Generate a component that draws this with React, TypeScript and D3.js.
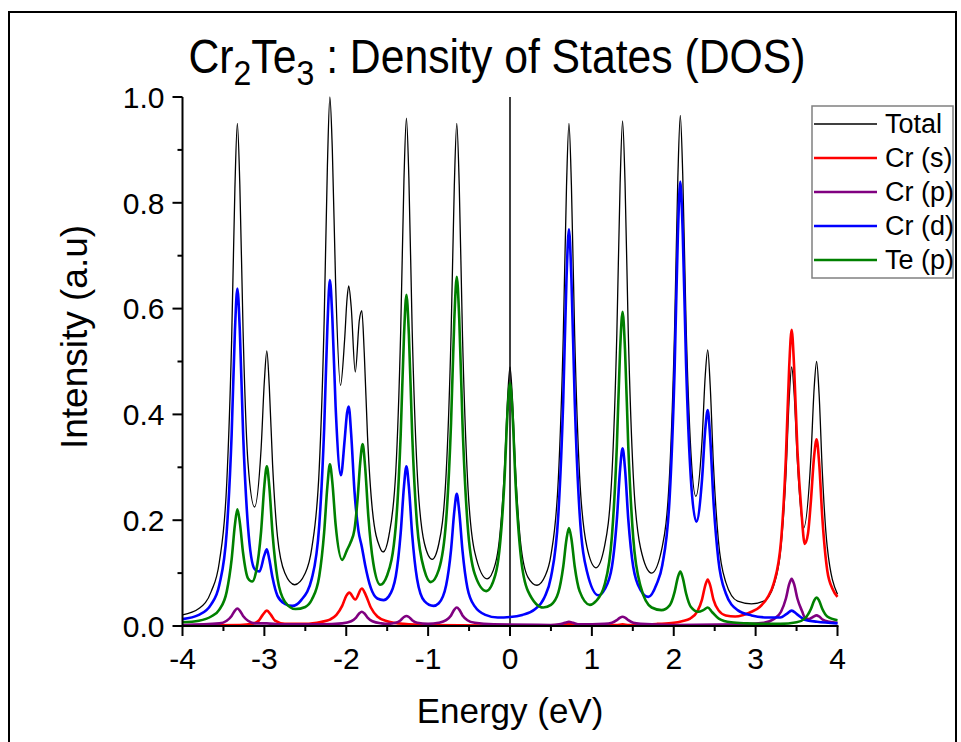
import React from 'react';
import * as d3 from 'd3';

// ---------- data (Energy eV, Intensity a.u.) ----------
const totalDOS: [number, number][] = [
  [-4.0,.021],[-3.8,.033],[-3.65,.065],[-3.55,.121],[-3.46,.269],[-3.40,.539],[-3.36,.827],[-3.33,.95],[-3.30,.835],[-3.26,.557],[-3.20,.308],[-3.12,.225],[-3.04,.335],[-3.00,.463],[-2.97,.52],[-2.94,.453],[-2.90,.306],[-2.84,.169],[-2.75,.10],[-2.63,.078],[-2.50,.10],[-2.42,.148],[-2.33,.298],[-2.27,.576],[-2.23,.871],[-2.20,1.0],[-2.17,.90],[-2.13,.649],[-2.07,.455],[-2.02,.541],[-1.99,.619],[-1.97,.643],[-1.94,.604],[-1.89,.48],[-1.84,.578],[-1.81,.596],[-1.78,.516],[-1.74,.358],[-1.68,.218],[-1.59,.149],[-1.55,.14],[-1.48,.17],[-1.395,.292],[-1.335,.558],[-1.295,.845],[-1.265,.96],[-1.235,.846],[-1.195,.561],[-1.135,.296],[-1.045,.156],[-0.95,.126],[-0.87,.155],[-0.78,.288],[-0.72,.55],[-0.68,.833],[-0.65,.95],[-0.62,.833],[-0.58,.547],[-0.52,.281],[-0.43,.139],[-0.28,.089],[-0.18,.117],[-0.13,.163],[-0.07,.29],[-0.03,.429],[0,.49],[0.03,.429],[0.07,.288],[0.13,.157],[0.22,.092],[0.33,.077],[0.43,.095],[0.50,.134],[0.59,.277],[0.65,.544],[0.69,.83],[0.72,.95],[0.75,.833],[0.79,.549],[0.85,.284],[0.94,.149],[1.05,.11],[1.155,.151],[1.245,.287],[1.305,.553],[1.345,.837],[1.375,.955],[1.405,.838],[1.445,.552],[1.505,.286],[1.595,.147],[1.73,.10],[1.86,.150],[1.95,.29],[2.01,.559],[2.05,.847],[2.08,.965],[2.11,.852],[2.15,.574],[2.21,.327],[2.27,.245],[2.345,.349],[2.385,.474],[2.415,.522],[2.445,.455],[2.485,.304],[2.545,.162],[2.635,.083],[2.78,.047],[2.95,.042],[3.1,.047],[3.22,.076],[3.31,.15],[3.37,.285],[3.41,.43],[3.44,.49],[3.47,.441],[3.51,.312],[3.585,.185],[3.675,.318],[3.715,.45],[3.745,.50],[3.775,.439],[3.815,.29],[3.875,.149],[4.0,.06]
];

const crS: [number, number][] = [
  [-4.0,.001],[-3.3,.002],[-3.15,.004],[-3.07,.01],[-3.02,.021],[-2.97,.029],[-2.92,.021],[-2.87,.01],[-2.75,.004],[-2.5,.004],[-2.3,.008],[-2.2,.012],[-2.12,.021],[-2.05,.038],[-2.0,.057],[-1.963,.063],[-1.89,.05],[-1.81,.071],[-1.76,.058],[-1.70,.035],[-1.62,.018],[-1.5,.009],[-1.3,.004],[-1.0,.002],[0,.001],[0.65,.002],[0.72,.004],[0.8,.002],[1.3,.002],[1.375,.003],[1.45,.002],[1.8,.004],[2.0,.006],[2.1,.009],[2.2,.014],[2.29,.028],[2.345,.05],[2.385,.077],[2.415,.088],[2.445,.077],[2.485,.05],[2.545,.03],[2.635,.02],[2.75,.018],[2.85,.021],[2.95,.027],[3.05,.036],[3.15,.055],[3.22,.08],[3.31,.16],[3.37,.32],[3.41,.49],[3.44,.56],[3.47,.49],[3.51,.334],[3.56,.215],[3.6,.155],[3.64,.175],[3.675,.236],[3.715,.322],[3.745,.353],[3.775,.31],[3.815,.204],[3.875,.105],[3.94,.07],[4.0,.055]
];

const crP: [number, number][] = [
  [-4.0,.002],[-3.55,.005],[-3.46,.01],[-3.40,.019],[-3.36,.029],[-3.33,.033],[-3.30,.029],[-3.26,.019],[-3.20,.01],[-3.11,.005],[-2.97,.005],[-2.8,.003],[-2.3,.003],[-2.05,.005],[-1.94,.009],[-1.88,.016],[-1.84,.024],[-1.81,.027],[-1.78,.024],[-1.74,.016],[-1.68,.009],[-1.57,.005],[-1.485,.004],[-1.395,.006],[-1.335,.011],[-1.295,.017],[-1.265,.019],[-1.235,.017],[-1.195,.011],[-1.135,.006],[-1.0,.004],[-0.87,.006],[-0.78,.011],[-0.72,.02],[-0.68,.031],[-0.65,.035],[-0.62,.031],[-0.58,.02],[-0.52,.011],[-0.43,.006],[-0.2,.003],[0.5,.002],[0.6,.003],[0.67,.006],[0.72,.008],[0.77,.006],[0.85,.003],[1.155,.004],[1.245,.006],[1.305,.011],[1.345,.016],[1.375,.0176],[1.405,.016],[1.445,.011],[1.505,.006],[1.595,.004],[2.0,.002],[2.8,.003],[3.1,.006],[3.22,.013],[3.31,.027],[3.37,.052],[3.41,.079],[3.44,.089],[3.47,.079],[3.51,.052],[3.57,.027],[3.6,.016],[3.65,.013],[3.7,.017],[3.745,.02],[3.775,.018],[3.82,.012],[3.9,.008],[4.0,.006]
];

const crD: [number, number][] = [
  [-4.0,.013],[-3.8,.021],[-3.65,.041],[-3.55,.078],[-3.46,.178],[-3.40,.361],[-3.36,.557],[-3.33,.638],[-3.30,.559],[-3.26,.365],[-3.20,.188],[-3.12,.108],[-3.06,.103],[-3.00,.134],[-2.97,.145],[-2.94,.126],[-2.90,.091],[-2.84,.057],[-2.75,.042],[-2.66,.038],[-2.55,.049],[-2.42,.09],[-2.33,.19],[-2.27,.372],[-2.23,.567],[-2.20,.654],[-2.17,.583],[-2.13,.415],[-2.065,.285],[-2.02,.351],[-1.99,.403],[-1.97,.415],[-1.94,.363],[-1.90,.256],[-1.85,.179],[-1.81,.15],[-1.77,.116],[-1.70,.072],[-1.62,.052],[-1.545,.049],[-1.48,.056],[-1.395,.094],[-1.335,.176],[-1.295,.264],[-1.265,.302],[-1.235,.263],[-1.195,.173],[-1.135,.089],[-1.045,.047],[-0.935,.038],[-0.87,.043],[-0.78,.077],[-0.72,.144],[-0.68,.217],[-0.65,.25],[-0.62,.216],[-0.58,.142],[-0.52,.072],[-0.43,.037],[-0.30,.021],[-0.15,.016],[0,.017],[0.15,.021],[0.3,.031],[0.42,.054],[0.50,.092],[0.59,.21],[0.65,.426],[0.69,.656],[0.72,.75],[0.75,.657],[0.79,.428],[0.85,.214],[0.94,.103],[1.08,.058],[1.155,.069],[1.245,.112],[1.305,.201],[1.345,.297],[1.375,.336],[1.405,.297],[1.445,.201],[1.505,.112],[1.595,.068],[1.69,.055],[1.79,.079],[1.86,.115],[1.95,.243],[2.01,.482],[2.05,.738],[2.08,.84],[2.11,.742],[2.15,.497],[2.21,.276],[2.276,.197],[2.345,.276],[2.385,.372],[2.415,.408],[2.445,.356],[2.485,.237],[2.545,.125],[2.635,.062],[2.78,.03],[2.95,.02],[3.15,.016],[3.3,.016],[3.38,.023],[3.44,.029],[3.5,.023],[3.6,.012],[3.75,.008],[4.0,.005]
];

const teP: [number, number][] = [
  [-4.0,.007],[-3.8,.01],[-3.65,.018],[-3.55,.031],[-3.46,.065],[-3.40,.126],[-3.36,.191],[-3.33,.2205],[-3.30,.196],[-3.26,.138],[-3.20,.09],[-3.15,.084],[-3.10,.104],[-3.04,.179],[-3.00,.266],[-2.97,.302],[-2.94,.264],[-2.90,.174],[-2.84,.09],[-2.75,.046],[-2.62,.032],[-2.50,.036],[-2.42,.05],[-2.33,.094],[-2.27,.177],[-2.23,.265],[-2.20,.3055],[-2.17,.272],[-2.13,.192],[-2.05,.125],[-1.99,.144],[-1.95,.157],[-1.90,.182],[-1.86,.243],[-1.83,.308],[-1.80,.344],[-1.77,.302],[-1.73,.207],[-1.67,.119],[-1.585,.078],[-1.50,.096],[-1.395,.189],[-1.335,.362],[-1.295,.548],[-1.265,.626],[-1.235,.551],[-1.195,.364],[-1.135,.192],[-1.045,.105],[-0.967,.083],[-0.87,.106],[-0.78,.2],[-0.72,.384],[-0.68,.58],[-0.65,.66],[-0.62,.581],[-0.58,.382],[-0.52,.196],[-0.43,.098],[-0.29,.066],[-0.18,.096],[-0.13,.142],[-0.07,.268],[-0.03,.404],[0,.459],[0.03,.403],[0.07,.264],[0.13,.135],[0.22,.066],[0.406,.035],[0.50,.04],[0.59,.063],[0.65,.112],[0.69,.164],[0.72,.185],[0.75,.165],[0.79,.113],[0.85,.066],[0.976,.04],[1.05,.047],[1.155,.078],[1.245,.17],[1.305,.34],[1.345,.523],[1.375,.594],[1.405,.522],[1.445,.338],[1.505,.167],[1.595,.075],[1.73,.035],[1.85,.03],[1.95,.039],[2.01,.064],[2.05,.092],[2.08,.103],[2.11,.091],[2.15,.062],[2.21,.036],[2.30,.027],[2.36,.03],[2.415,.035],[2.47,.026],[2.55,.014],[2.7,.007],[2.9,.005],[3.1,.004],[3.3,.004],[3.5,.007],[3.6,.014],[3.675,.032],[3.715,.048],[3.745,.054],[3.775,.048],[3.815,.032],[3.875,.018],[4.0,.011]
];

const seriesNames = ['Total', 'Cr (s)', 'Cr (p)', 'Cr (d)', 'Te (p)'];
const seriesColors = ['#000000', '#ff0000', '#800080', '#0000ff', '#008000'];
const seriesWidths = [1.3, 2.6, 2.6, 2.6, 2.6];
const seriesData = [totalDOS, crS, crP, crD, teP];

const xTicks = [-4, -3, -2, -1, 0, 1, 2, 3, 4];
const xTickLabels = ['-4', '-3', '-2', '-1', '0', '1', '2', '3', '4'];
const xMinor = [-3.5, -2.5, -1.5, -0.5, 0.5, 1.5, 2.5, 3.5];
const yTicks = [0, 0.2, 0.4, 0.6, 0.8, 1.0];
const yTickLabels = ['0.0', '0.2', '0.4', '0.6', '0.8', '1.0'];
const yMinor = [0.1, 0.3, 0.5, 0.7, 0.9];

const FONT = '"Liberation Sans", Arial, Helvetica, sans-serif';

export default function App() {
  const W = 961, H = 742;
  const x = d3.scaleLinear().domain([-4, 4]).range([182.5, 837.5]);
  const y = d3.scaleLinear().domain([0, 1]).range([626, 97]);
  const line = d3.line<[number, number]>()
    .x(d => x(d[0]))
    .y(d => y(d[1]))
    .curve(d3.curveMonotoneX);

  const legX = 812, legY = 106, legW = 141, legH = 172;
  const rowY = (i: number) => 124 + i * 34;

  return (
    <svg width={W} height={H} viewBox={`0 0 ${W} ${H}`}
      style={{ position: 'absolute', left: 0, top: 0, background: '#fff', fontFamily: FONT }}>
      <rect x={0} y={0} width={W} height={H} fill="#fff" />
      {/* outer frame */}
      <rect x={9} y={12} width={947} height={770} fill="none" stroke="#000" strokeWidth={2} />

      {/* title */}
      <text transform="translate(497,73) scale(0.89,1)" textAnchor="middle" fontSize={48} fill="#000">
        Cr<tspan fontSize={36} dy={12}>2</tspan><tspan dy={-12}>Te</tspan><tspan fontSize={36} dy={12}>3</tspan><tspan dy={-12}> : Density of States (DOS)</tspan>
      </text>

      {/* zero line */}
      <line x1={x(0)} x2={x(0)} y1={y(1)} y2={y(0)} stroke="#000" strokeWidth={1.5} />

      {/* series */}
      {seriesData.map((d, i) => (
        <path key={seriesNames[i]} d={line(d) || ''} fill="none" stroke={seriesColors[i]}
          strokeWidth={seriesWidths[i]} strokeLinejoin="round" />
      ))}

      {/* axes */}
      <line x1={x(-4)} x2={x(-4)} y1={y(1)} y2={y(0) + 1} stroke="#000" strokeWidth={2} />
      <line x1={x(-4) - 1} x2={x(4) + 1} y1={y(0)} y2={y(0)} stroke="#000" strokeWidth={2} />
      {yTicks.map((t, i) => (
        <g key={'yt' + i}>
          <line x1={x(-4) - 10} x2={x(-4)} y1={y(t)} y2={y(t)} stroke="#000" strokeWidth={2} />
          <text x={x(-4) - 18} y={y(t)} dy="0.36em" textAnchor="end" fontSize={30}>{yTickLabels[i]}</text>
        </g>
      ))}
      {yMinor.map((t, i) => (
        <line key={'ym' + i} x1={x(-4) - 5} x2={x(-4)} y1={y(t)} y2={y(t)} stroke="#000" strokeWidth={2} />
      ))}
      {xTicks.map((t, i) => (
        <g key={'xt' + i}>
          <line x1={x(t)} x2={x(t)} y1={y(0)} y2={y(0) + 10} stroke="#000" strokeWidth={2} />
          <text x={x(t)} y={669} textAnchor="middle" fontSize={30}>{xTickLabels[i]}</text>
        </g>
      ))}
      {xMinor.map((t, i) => (
        <line key={'xm' + i} x1={x(t)} x2={x(t)} y1={y(0)} y2={y(0) + 5} stroke="#000" strokeWidth={2} />
      ))}

      {/* axis titles */}
      <text x={510} y={723} textAnchor="middle" fontSize={35}>Energy (eV)</text>
      <text transform="translate(87,337) rotate(-90)" textAnchor="middle" fontSize={37}>Intensity (a.u)</text>

      {/* legend */}
      <rect x={legX} y={legY} width={legW} height={legH} fill="#fff" stroke="#808080" strokeWidth={1.5} />
      {seriesNames.map((n, i) => (
        <g key={'lg' + i}>
          <line x1={814} x2={877} y1={rowY(i)} y2={rowY(i)} stroke={seriesColors[i]} strokeWidth={seriesWidths[i]} />
          <text x={885} y={rowY(i) + 9} fontSize={27}>{n}</text>
        </g>
      ))}
    </svg>
  );
}
